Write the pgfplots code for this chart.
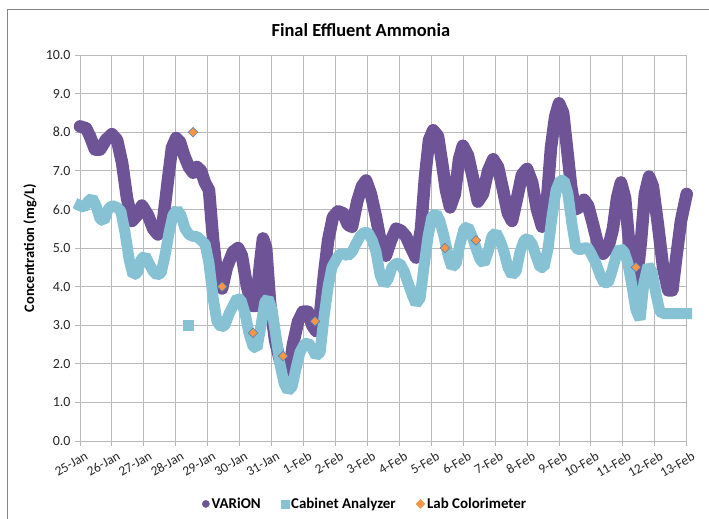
\documentclass[border=0pt]{standalone}
\usepackage{pgfplots}
\pgfplotsset{compat=1.18}
\usepackage{fontspec}
\setmainfont{Carlito}
\definecolor{varion}{RGB}{110,84,150}
\definecolor{cab}{RGB}{134,194,212}
\definecolor{labc}{RGB}{247,150,70}
\definecolor{labedge}{RGB}{79,129,189}
\definecolor{gridc}{RGB}{185,185,185}
\definecolor{borderc}{RGB}{134,134,134}

\pgfplotstableread{
x y
0.00 8.15
0.19 8.10
0.31 7.90
0.47 7.55
0.63 7.55
0.81 7.80
1.00 7.95
1.16 7.80
1.32 7.20
1.47 6.30
1.63 5.70
1.79 5.85
1.94 6.10
2.13 5.85
2.29 5.50
2.44 5.35
2.60 5.70
2.76 6.80
2.88 7.60
3.01 7.85
3.13 7.75
3.26 7.40
3.41 7.10
3.54 6.95
3.66 7.10
3.79 7.00
3.91 6.70
4.04 6.50
4.17 5.20
4.32 4.10
4.45 3.95
4.60 4.50
4.79 4.90
4.95 5.00
5.07 4.80
5.23 4.00
5.39 3.50
5.51 3.50
5.64 4.60
5.73 5.25
5.83 5.00
5.95 3.60
6.11 2.60
6.26 2.10
6.42 1.80
6.55 1.80
6.67 2.50
6.83 3.10
6.98 3.35
7.14 3.35
7.27 3.00
7.39 2.85
7.52 3.30
7.64 4.30
7.77 5.20
7.92 5.80
8.08 5.95
8.24 5.90
8.39 5.60
8.52 5.55
8.68 6.20
8.83 6.60
8.96 6.75
9.11 6.40
9.27 5.80
9.43 5.10
9.58 4.80
9.74 5.20
9.90 5.50
10.05 5.45
10.21 5.30
10.37 5.00
10.52 4.75
10.68 5.50
10.80 6.80
10.93 7.80
11.06 8.05
11.21 7.90
11.34 7.20
11.46 6.50
11.59 6.05
11.74 6.40
11.87 7.30
11.99 7.65
12.15 7.40
12.31 6.80
12.46 6.20
12.62 6.40
12.78 7.00
12.94 7.30
13.09 7.10
13.25 6.50
13.40 5.90
13.53 5.70
13.69 6.30
13.84 6.90
14.00 7.05
14.16 6.70
14.31 6.00
14.47 5.55
14.63 6.30
14.75 7.60
14.88 8.40
15.00 8.75
15.13 8.50
15.25 7.60
15.38 6.60
15.50 6.00
15.63 6.05
15.78 6.25
15.91 6.10
16.07 5.60
16.22 5.10
16.38 4.85
16.54 5.00
16.69 5.50
16.82 6.30
16.94 6.70
17.07 6.30
17.19 5.20
17.32 4.30
17.44 4.15
17.57 5.20
17.69 6.40
17.82 6.85
17.94 6.60
18.10 5.60
18.26 4.50
18.42 3.90
18.55 3.90
18.68 4.80
18.82 5.70
19.00 6.40
}\varion

\pgfplotstableread{
x y
0.00 6.10
0.13 6.05
0.25 6.20
0.38 6.30
0.50 6.10
0.63 5.75
0.75 5.70
0.88 6.00
1.00 6.10
1.16 6.05
1.28 5.95
1.41 5.40
1.54 4.70
1.66 4.30
1.79 4.35
1.91 4.70
2.04 4.80
2.16 4.60
2.29 4.40
2.41 4.30
2.54 4.35
2.66 4.80
2.79 5.40
2.91 5.85
3.04 6.00
3.16 5.85
3.29 5.50
3.41 5.35
3.54 5.30
3.66 5.30
3.79 5.20
3.92 5.10
4.04 4.60
4.17 3.70
4.29 3.10
4.42 2.95
4.54 3.00
4.67 3.30
4.79 3.50
4.92 3.70
5.04 3.65
5.17 3.30
5.29 2.80
5.42 2.45
5.54 2.40
5.67 3.00
5.79 3.60
5.89 3.70
6.01 3.40
6.14 2.70
6.26 2.00
6.39 1.50
6.51 1.30
6.64 1.40
6.77 1.90
6.89 2.30
7.02 2.50
7.14 2.55
7.27 2.40
7.39 2.20
7.52 2.30
7.64 3.20
7.77 4.00
7.89 4.50
8.02 4.70
8.14 4.85
8.27 4.85
8.39 4.80
8.52 4.90
8.64 5.10
8.77 5.30
8.89 5.40
9.02 5.40
9.15 5.20
9.27 4.90
9.40 4.30
9.52 4.05
9.65 4.20
9.77 4.50
9.90 4.60
10.02 4.60
10.15 4.40
10.27 4.10
10.40 3.80
10.52 3.55
10.65 3.70
10.77 4.50
10.90 5.30
11.02 5.80
11.15 5.90
11.27 5.70
11.40 5.30
11.53 4.80
11.65 4.50
11.78 4.60
11.90 5.10
12.03 5.50
12.15 5.55
12.28 5.30
12.40 5.00
12.53 4.70
12.65 4.60
12.78 4.90
12.90 5.30
13.03 5.40
13.15 5.20
13.28 4.90
13.40 4.50
13.53 4.30
13.66 4.40
13.78 4.90
13.91 5.20
14.03 5.25
14.16 5.10
14.28 4.80
14.41 4.50
14.53 4.50
14.66 5.00
14.78 5.80
14.91 6.50
15.03 6.75
15.16 6.75
15.28 6.40
15.41 5.60
15.53 5.00
15.66 4.95
15.78 5.00
15.91 5.00
16.04 4.80
16.16 4.60
16.29 4.30
16.41 4.10
16.54 4.10
16.66 4.40
16.79 4.80
16.91 5.00
17.04 4.90
17.16 4.60
17.29 4.00
17.41 3.40
17.54 3.15
17.66 4.10
17.79 4.55
17.91 4.40
18.04 3.80
18.16 3.35
18.29 3.30
18.60 3.30
19.00 3.30
}\cabinet

\pgfplotstableread{
x y
3.54 8.0
4.45 4.0
5.42 2.8
6.36 2.2
7.36 3.1
11.43 5.0
12.40 5.2
17.41 4.5
}\labcol

\begin{document}
\begin{tikzpicture}
\path[use as bounding box] (0bp,0bp) rectangle (709bp,519bp);
\draw[borderc, line width=0.8bp] (7bp,0bp) -- (7bp,510bp) -- (709bp,510bp);
\begin{axis}[
  at={(80bp,78bp)}, anchor=south west,
  scale only axis, width=606.7bp, height=386bp,
  xmin=0, xmax=19, ymin=0, ymax=10,
  clip=false,
  xtick={0,...,19},
  xticklabels={25-Jan,26-Jan,27-Jan,28-Jan,29-Jan,30-Jan,31-Jan,1-Feb,2-Feb,3-Feb,4-Feb,5-Feb,6-Feb,7-Feb,8-Feb,9-Feb,10-Feb,11-Feb,12-Feb,13-Feb},
  ytick={0,1,...,10},
  grid=major,
  major grid style={gridc, line width=0.9bp},
  axis line style={gridc, line width=0.9bp},
  tick style={gridc, line width=0.9bp},
  tick align=outside,
  major tick length=5bp,
  xtick pos=bottom, ytick pos=left,
  /pgf/number format/assume math mode=true,
  yticklabel style={/pgf/number format/.cd, fixed, fixed zerofill, precision=1, /tikz/.cd, font=\fontsize{14}{16}\selectfont, text=black!85, xshift=-1bp},
  xticklabel style={rotate=30, anchor=north east, font=\fontsize{13.5}{15}\selectfont, text=black!85, inner sep=0.5bp, yshift=-6bp, xshift=2bp},
  title={Final Effluent Ammonia},
  title style={font=\bfseries\fontsize{18.5}{20}\selectfont, at={(axis description cs:0.463,1.049)}, anchor=center},
  ylabel={Concentration (mg/L)},
  ylabel style={font=\bfseries\fontsize{14.5}{16}\selectfont, at={(axis description cs:-0.0824,0.5)}, anchor=center},
  legend columns=3,
  legend style={draw=none, fill=none, at={(axis description cs:0.47,-0.163)}, anchor=center,
    font=\bfseries\fontsize{15}{17}\selectfont,
    /tikz/every even column/.append style={column sep=18bp}},
]
\addplot[varion, line width=12.5bp, line cap=round, line join=round, forget plot] table {\varion};
\addplot[cab, line width=11bp, line cap=rect, line join=bevel, forget plot] table {\cabinet};
\addplot[cab, only marks, mark=square*, mark size=4.8bp, mark options={fill=cab, draw=none}, forget plot] coordinates {(3.38,3.0)};
\addplot[only marks, mark=square*, mark size=3.4bp, mark options={rotate=45, fill=labc, draw=labedge, line width=0.6bp}, forget plot] table {\labcol};
\addlegendimage{legend image code/.code={\fill[varion] (4bp,0bp) circle (3.6bp);}}
\addlegendentry{VARiON}
\addlegendimage{legend image code/.code={\fill[cab] (2bp,-4bp) rectangle (10bp,4bp);}}
\addlegendentry{Cabinet Analyzer}
\addlegendimage{legend image code/.code={\fill[labc] (6bp,-4.5bp) -- (10.5bp,0bp) -- (6bp,4.5bp) -- (1.5bp,0bp) -- cycle;}}
\addlegendentry{Lab Colorimeter}
\end{axis}
\end{tikzpicture}
\end{document}
